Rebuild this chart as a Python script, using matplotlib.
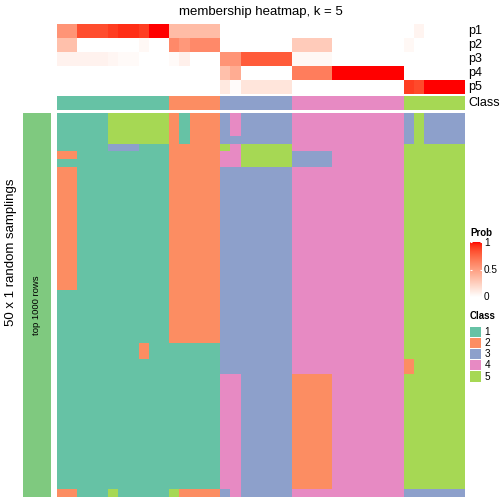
import numpy as np
import matplotlib
matplotlib.use("Agg")
import matplotlib.pyplot as plt
from matplotlib.colors import ListedColormap
from matplotlib.patches import Rectangle

plt.rcParams['font.family'] = ['Liberation Sans', 'DejaVu Sans']

# ---------------- data ----------------
title = "membership heatmap, k = 5"
class_labels = ["1", "2", "3", "4", "5"]
class_colors = ["#66C2A5", "#FC8D62", "#8DA0CB", "#E78AC3", "#A6D854"]
prob_rows = ["p1", "p2", "p3", "p4", "p5"]

p1 = [0.55, 0.55, 0.85, 0.85, 0.85, 0.9, 0.94, 0.94, 0.9, 1.0, 1.0,
      0.35, 0.35, 0.35, 0.35, 0.35,
      0, 0, 0, 0, 0, 0, 0,
      0, 0, 0, 0, 0, 0, 0, 0, 0, 0, 0,
      0, 0.06, 0, 0, 0, 0]
p2 = [0.33, 0.33, 0, 0, 0, 0, 0, 0, 0.04, 0, 0,
      0.6, 0.53, 0.6, 0.6, 0.6,
      0, 0, 0, 0, 0, 0, 0,
      0.27, 0.27, 0.27, 0.27, 0, 0, 0, 0, 0, 0, 0,
      0.04, 0, 0, 0, 0, 0]
p3 = [0.07, 0.07, 0.07, 0.07, 0.07, 0.05, 0.03, 0.03, 0, 0, 0,
      0.03, 0.08, 0, 0, 0,
      0.55, 0.55, 0.8, 0.8, 0.8, 0.8, 0.8,
      0.04, 0.04, 0.04, 0.04, 0, 0, 0, 0, 0, 0, 0,
      0, 0, 0, 0, 0, 0]
p4 = [0, 0, 0, 0, 0, 0, 0, 0, 0, 0, 0,
      0, 0, 0, 0, 0,
      0.33, 0.43, 0, 0, 0, 0, 0,
      0.66, 0.66, 0.66, 0.66, 1.0, 1.0, 1.0, 1.0, 1.0, 1.0, 1.0,
      0, 0, 0, 0, 0, 0]
p5 = [0, 0, 0, 0, 0, 0, 0, 0, 0, 0, 0,
      0, 0, 0, 0, 0,
      0.12, 0.02, 0.14, 0.14, 0.14, 0.14, 0.14,
      0, 0, 0, 0, 0, 0, 0, 0, 0, 0, 0,
      0.9, 0.86, 1.0, 1.0, 1.0, 1.0]
column_class = [1] * 11 + [2] * 5 + [3] * 7 + [4] * 11 + [5] * 6

# sampling class matrix: (number of repeated rows, classes per column)
row_blocks = [
    (3,  "11111555555" "21222" "3433333" "44444444444" "353333"),
    (1,  "11111555555" "21222" "3333333" "44444444444" "353333"),
    (1,  "11111333111" "22222" "5455555" "44444444444" "555555"),
    (1,  "22111111111" "22222" "4455555" "33334444444" "555555"),
    (1,  "11111111111" "22222" "4455555" "33334444444" "555555"),
    (16, "22111111111" "22222" "3333333" "44444444444" "555555"),
    (7,  "11111111111" "22222" "3333333" "44444444444" "555555"),
    (2,  "11111111211" "11111" "3333333" "44444444444" "555555"),
    (2,  "11111111111" "11111" "3333333" "44444444444" "255555"),
    (15, "11111111111" "11111" "4433333" "22224444444" "555555"),
    (1,  "22111511111" "52222" "3433333" "44444444444" "333333"),
]
left_label = "50 x 1 random samplings"
bar_label = "top 1000 rows"
bar_color = "#7FC97F"
colorbar_ticks = [0, 0.5, 1]
colorbar_ticklabels = ["0", "0.5", "1"]

# ---------------- colour map (LAB interpolation white -> red) -------------
def srgb_to_lab(rgb):
    rgb = np.asarray(rgb, float)
    lin = np.where(rgb <= 0.04045, rgb / 12.92, ((rgb + 0.055) / 1.055) ** 2.4)
    M = np.array([[0.4124, 0.3576, 0.1805],
                  [0.2126, 0.7152, 0.0722],
                  [0.0193, 0.1192, 0.9505]])
    xyz = M @ lin
    xyz = xyz / np.array([0.95047, 1.0, 1.08883])
    f = np.where(xyz > 0.008856, np.cbrt(xyz), 7.787 * xyz + 16 / 116)
    return np.array([116 * f[1] - 16, 500 * (f[0] - f[1]), 200 * (f[1] - f[2])])

def lab_to_srgb(lab):
    L, a, b = lab
    fy = (L + 16) / 116
    fx = fy + a / 500
    fz = fy - b / 200
    f = np.array([fx, fy, fz])
    xyz = np.where(f ** 3 > 0.008856, f ** 3, (f - 16 / 116) / 7.787)
    xyz = xyz * np.array([0.95047, 1.0, 1.08883])
    Minv = np.array([[3.2406, -1.5372, -0.4986],
                     [-0.9689, 1.8758, 0.0415],
                     [0.0557, -0.2040, 1.0570]])
    lin = np.clip(Minv @ xyz, 0, 1)
    rgb = np.where(lin <= 0.0031308, 12.92 * lin, 1.055 * lin ** (1 / 2.4) - 0.055)
    return np.clip(rgb, 0, 1)

lw = srgb_to_lab([1, 1, 1])
lr = srgb_to_lab([1, 0, 0])
prob_cmap = ListedColormap([lab_to_srgb(lw + (lr - lw) * t) for t in np.linspace(0, 1, 256)])
class_cmap = ListedColormap(class_colors)

# ---------------- figure ----------------
W = H = 504
fig = plt.figure(figsize=(5.04, 5.04), dpi=100)

def px_axes(x0, y0, x1, y1):
    ax = fig.add_axes([x0 / W, 1 - y1 / H, (x1 - x0) / W, (y1 - y0) / H])
    ax.set_axis_off()
    return ax

HX0, HX1 = 57, 465

# probability annotation
prob = np.array([p1, p2, p3, p4, p5])
ax_p = px_axes(HX0, 24, HX1, 94)
ax_p.pcolormesh(np.arange(prob.shape[1] + 1), np.arange(prob.shape[0] + 1), prob,
                cmap=prob_cmap, vmin=0, vmax=1, antialiased=False, edgecolors='none')
ax_p.set_xlim(0, prob.shape[1]); ax_p.set_ylim(prob.shape[0], 0)

# class annotation
ax_c = px_axes(HX0, 95.7, HX1, 110)
ax_c.pcolormesh(np.arange(len(column_class) + 1), [0, 1], np.array([column_class]),
                cmap=class_cmap, vmin=0.5, vmax=5.5, antialiased=False, edgecolors='none')
ax_c.set_xlim(0, len(column_class)); ax_c.set_ylim(1, 0)

# row labels
for i, name in enumerate(prob_rows):
    fig.text(468 / W, 1 - (24 + 14 * i + 7) / H, name, fontsize=9, va='center', ha='left')
fig.text(468 / W, 1 - 102.8 / H, "Class", fontsize=9, va='center', ha='left')

# main matrix
rows = []
for n, s in row_blocks:
    for _ in range(n):
        rows.append([int(c) for c in s])
mat = np.array(rows)
ax_m = px_axes(HX0, 113, HX1, 497)
ax_m.pcolormesh(np.arange(mat.shape[1] + 1), np.arange(mat.shape[0] + 1), mat,
                cmap=class_cmap, vmin=0.5, vmax=5.5, antialiased=False, edgecolors='none')
ax_m.set_xlim(0, mat.shape[1]); ax_m.set_ylim(mat.shape[0], 0)

# left green bar
ax_b = px_axes(23, 113, 50.5, 497)
ax_b.add_patch(Rectangle((0, 0), 1, 1, color=bar_color, transform=ax_b.transAxes))
ax_b.text(0.5, 0.5, bar_label, rotation=90, fontsize=6.8, ha='center', va='center',
          transform=ax_b.transAxes)

fig.text(11.5 / W, 1 - 252 / H, left_label, rotation=90, fontsize=9.5,
         ha='center', va='center')

# title
fig.text(261 / W, 1 - 12 / H, title, fontsize=9.5, ha='center', va='center')

# legend: Prob
fig.text(470 / W, 1 - 233 / H, "Prob", fontsize=7, fontweight='bold', ha='left', va='center')
ax_cb = px_axes(470, 242, 482, 297)
grad = np.linspace(0, 1, 200).reshape(-1, 1)
ax_cb.imshow(grad, cmap=prob_cmap, vmin=0, vmax=1, aspect='auto', origin='lower',
             extent=[0, 1, 0, 1])
ax_cb.set_xlim(0, 1); ax_cb.set_ylim(0, 1)
for t, lab in zip(colorbar_ticks, colorbar_ticklabels):
    ax_cb.plot([0, 0.18], [t, t], color='white', lw=0.8, solid_capstyle='butt')
    ax_cb.plot([0.82, 1], [t, t], color='white', lw=0.8, solid_capstyle='butt')
    y = 297 - t * 55
    fig.text(484 / W, 1 - (y + 0.5) / H, lab, fontsize=7.2, ha='left', va='center')

# legend: Class
fig.text(470 / W, 1 - 316 / H, "Class", fontsize=7, fontweight='bold', ha='left', va='center')
for i, (lab, col) in enumerate(zip(class_labels, class_colors)):
    y0 = 326.5 + 11.2 * i
    ax_s = px_axes(470.3, y0, 481.3, y0 + 10.2)
    ax_s.add_patch(Rectangle((0, 0), 1, 1, color=col, transform=ax_s.transAxes))
    fig.text(484.5 / W, 1 - (y0 + 5.3) / H, lab, fontsize=7.2, ha='left', va='center')

fig.savefig("out.png", dpi=100)
